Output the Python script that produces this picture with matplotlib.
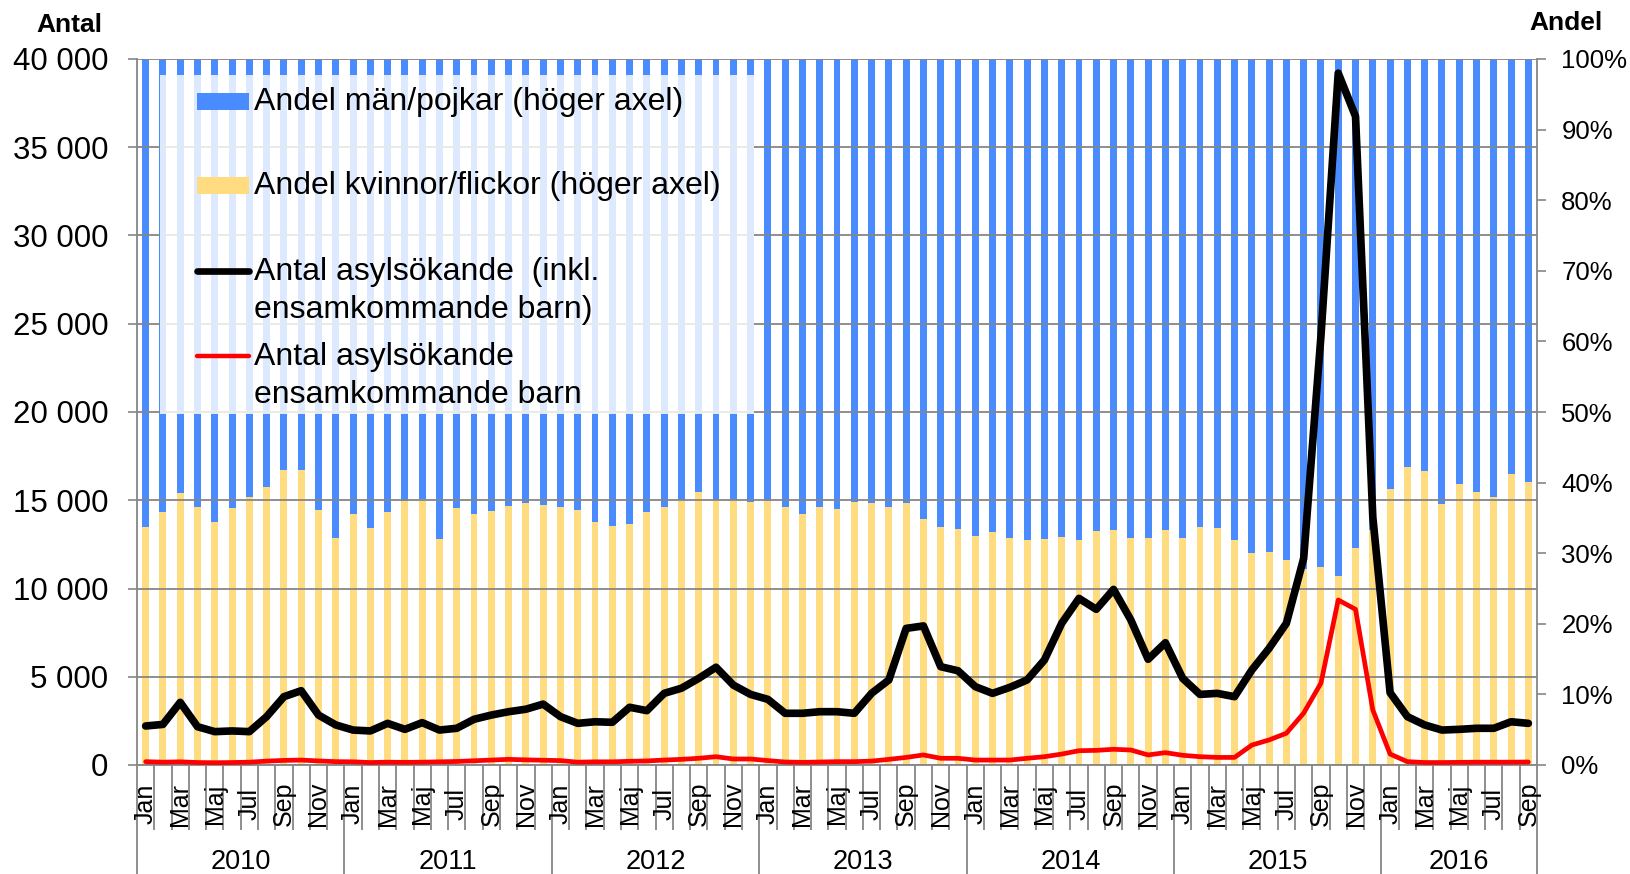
import matplotlib
matplotlib.use("Agg")
import matplotlib.pyplot as plt
from matplotlib.patches import Rectangle
from matplotlib.lines import Line2D
import numpy as np

plt.rcParams['font.family'] = ['Liberation Sans', 'DejaVu Sans']

# ---------------- data ----------------
years = ["2010", "2011", "2012", "2013", "2014", "2015", "2016"]
months_in_year = [12, 12, 12, 12, 12, 12, 9]
month_names = ["Jan", "Feb", "Mar", "Apr", "Maj", "Jun",
               "Jul", "Aug", "Sep", "Okt", "Nov", "Dec"]

# share women/girls (%), right axis
female_share = [
    33.7, 35.9, 38.5, 36.5, 34.4, 36.4, 37.9, 39.4, 41.8, 41.8, 36.1, 32.2,
    35.5, 33.6, 35.9, 37.4, 37.7, 32.0, 36.4, 35.6, 36.0, 36.7, 37.1, 36.8,
    36.6, 36.1, 34.4, 33.9, 34.1, 35.8, 36.6, 37.6, 38.7, 37.6, 37.6, 37.3,
    37.4, 36.5, 35.6, 36.5, 36.3, 37.3, 37.1, 36.6, 37.1, 34.8, 33.7, 33.4,
    32.4, 33.0, 32.2, 31.8, 32.0, 32.3, 31.9, 33.1, 33.3, 32.1, 32.1, 33.3,
    32.1, 33.7, 33.6, 31.9, 30.0, 30.1, 29.0, 27.8, 28.1, 26.8, 30.8, 33.3,
    39.1, 42.2, 41.7, 36.9, 39.8, 38.6, 38.0, 41.2, 40.1,
]

# total asylum seekers (incl. unaccompanied minors), left axis
total = [
    2210, 2300, 3550, 2170, 1890, 1930, 1890, 2740, 3870, 4210, 2830, 2270,
    1980, 1930, 2360, 2020, 2400, 1980, 2080, 2590, 2830, 3020, 3160, 3450,
    2740, 2360, 2450, 2420, 3270, 3080, 4060, 4350, 4910, 5540, 4530, 4000,
    3720, 2930, 2930, 3020, 3020, 2930, 4060, 4820, 7740, 7880, 5570, 5340,
    4440, 4060, 4400, 4820, 5950, 8030, 9440, 8820, 9950, 8220, 5990, 6930,
    4910, 4000, 4060, 3870, 5380, 6610, 8030, 11710, 24300, 39200, 36750, 14050,
    4100, 2740, 2270, 1980, 2020, 2080, 2080, 2450, 2360,
]

# unaccompanied minors, left axis
unaccompanied = [
    190, 160, 180, 140, 130, 140, 160, 220, 260, 280, 230, 190,
    180, 140, 160, 150, 160, 180, 200, 240, 280, 320, 290, 270,
    250, 160, 180, 180, 210, 230, 280, 320, 380, 470, 340, 340,
    250, 170, 150, 170, 190, 190, 220, 320, 430, 570, 380, 380,
    280, 280, 280, 380, 470, 620, 810, 830, 890, 850, 570, 700,
    550, 470, 430, 430, 1130, 1420, 1800, 2940, 4640, 9350, 8820, 3120,
    620, 190, 140, 140, 150, 160, 160, 160, 170,
]

legend_labels = [
    "Andel män/pojkar (höger axel)",
    "Andel kvinnor/flickor (höger axel)",
    "Antal asylsökande  (inkl.\nensamkommande barn)",
    "Antal asylsökande\nensamkommande barn",
]

left_ticks = [0, 5000, 10000, 15000, 20000, 25000, 30000, 35000, 40000]
right_ticks = [0, 0.1, 0.2, 0.3, 0.4, 0.5, 0.6, 0.7, 0.8, 0.9, 1.0]

# ---------------- style ----------------
BLUE = "#4A8BFF"
YELLOW = "#FFDC80"
GRAY = "#868686"

W, H = 1630, 874
L, R, T, B = 137, 1537, 59, 765


def fx(px):
    return px / W


def fy(py):
    return 1 - py / H


fig = plt.figure(figsize=(W / 100, H / 100), dpi=100)
ax1 = fig.add_axes([fx(L), fy(B), (R - L) / W, (B - T) / H])
ax2 = ax1.twinx()

n = len(total)
x = np.arange(n)
fs = np.array(female_share) / 100.0
ms = 1.0 - fs

# bars (right axis)
ax2.bar(x, fs, width=0.4, color=YELLOW, linewidth=0)
ax2.bar(x, ms, bottom=fs, width=0.4, color=BLUE, linewidth=0)
ax2.set_ylim(0, 1)
ax2.set_yticks(right_ticks)
ax2.set_yticklabels([f"{int(round(v * 100))}%" for v in right_ticks])

# lines (left axis) on top
ax1.set_zorder(ax2.get_zorder() + 1)
ax1.patch.set_visible(False)
ax1.plot(x, total, color="black", lw=5.5, zorder=4, solid_capstyle="round")
ax1.plot(x, unaccompanied, color="#FF0000", lw=3.4, zorder=5, solid_capstyle="round")
ax1.set_ylim(0, 40000)
ax1.set_xlim(-0.5, n - 0.5)
ax1.set_yticks(left_ticks)
ax1.set_yticklabels([f"{v:,}".replace(",", " ") for v in left_ticks])
ax1.yaxis.grid(True, color=GRAY, lw=1.3)
ax1.set_axisbelow(True)

# spines
for s in ["top", "right"]:
    ax1.spines[s].set_visible(False)
for s in ["left", "bottom"]:
    ax1.spines[s].set_color(GRAY)
    ax1.spines[s].set_linewidth(1.3)
for s in ["top", "left", "bottom"]:
    ax2.spines[s].set_visible(False)
ax2.spines["right"].set_color(GRAY)
ax2.spines["right"].set_linewidth(1.3)

ax1.tick_params(axis="y", direction="out", length=6.5, width=1.2, color=GRAY,
                labelsize=22.5, pad=14)
ax2.tick_params(axis="y", direction="out", length=6.5, width=1.2, color=GRAY,
                labelsize=18.5, pad=11)

# x axis: month boundary ticks and year separators
bounds = np.arange(n + 1) - 0.5
year_starts = np.concatenate([[0], np.cumsum(months_in_year)]) - 0.5
ax1.set_xticks(year_starts)
ax1.set_xticks([b for b in bounds if b not in set(year_starts)], minor=True)
ax1.tick_params(axis="x", which="major", direction="out", length=(H - B) * 0.72,
                width=1.3, color=GRAY, labelbottom=False)
ax1.tick_params(axis="x", which="minor", direction="out", length=65 * 0.72,
                width=1.3, color=GRAY, labelbottom=False)

trans = ax1.get_xaxis_transform()
axh = B - T
idx = 0
for yi, (yr, nm) in enumerate(zip(years, months_in_year)):
    for m in range(nm):
        if m % 2 == 0:
            ax1.text(idx + m, -39 / axh, month_names[m], rotation=90,
                     ha="center", va="center", fontsize=18, transform=trans)
    ax1.text(idx + (nm - 1) / 2, -97 / axh, yr, ha="center", va="center",
             fontsize=19.5, transform=trans)
    idx += nm

# axis titles
fig.text(fx(69), fy(25), "Antal", fontsize=19, fontweight="bold",
         ha="center", va="center")
fig.text(fx(1566), fy(23), "Andel", fontsize=19, fontweight="bold",
         ha="center", va="center")

# legend (drawn manually to match layout)
fig.add_artist(Rectangle((fx(160), fy(414)), (754 - 160) / W, (414 - 75) / H,
                         transform=fig.transFigure, facecolor="white",
                         alpha=0.82, edgecolor="none", zorder=10))
fig.add_artist(Rectangle((fx(197), fy(110)), 52 / W, 17 / H,
                         transform=fig.transFigure, facecolor=BLUE,
                         edgecolor="none", zorder=11))
fig.add_artist(Rectangle((fx(197), fy(194)), 52 / W, 17 / H,
                         transform=fig.transFigure, facecolor=YELLOW,
                         edgecolor="none", zorder=11))
fig.add_artist(Line2D([fx(197), fx(249)], [fy(271), fy(271)],
                      transform=fig.transFigure, color="black", lw=4.8,
                      solid_capstyle="round", zorder=11))
fig.add_artist(Line2D([fx(197), fx(249)], [fy(356), fy(356)],
                      transform=fig.transFigure, color="#FF0000", lw=3.2,
                      solid_capstyle="round", zorder=11))

entry_y = [102, 186, 272, 357]
for lab, ey in zip(legend_labels, entry_y):
    for k, line in enumerate(lab.split("\n")):
        fig.text(fx(254), fy(ey + 38 * k), line, fontsize=23,
                 ha="left", va="center", zorder=12)

fig.savefig("out.png", dpi=100)
